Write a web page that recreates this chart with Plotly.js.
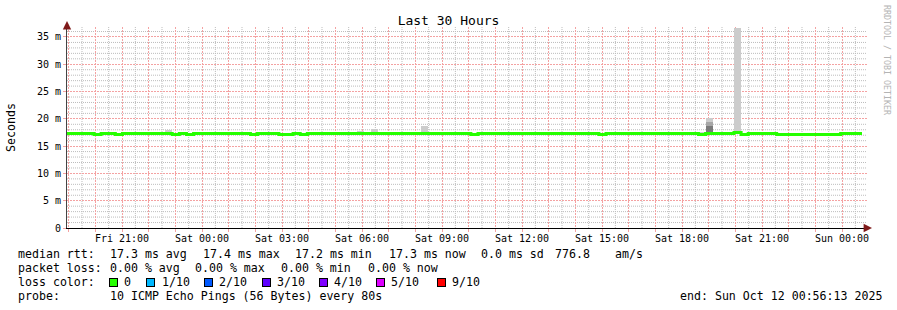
<!DOCTYPE html>
<html>
<head>
<meta charset="utf-8">
<script src="https://cdn.plot.ly/plotly-3.0.1.min.js"></script>
<style>
  html, body { margin: 0; padding: 0; background: #ffffff; }
  #chart { width: 897px; height: 310px; }
</style>
</head>
<body>
<div id="chart"></div>
<script>
// ---------------- DATA ----------------
const chartTitle = 'Last 30 Hours';
const rangeStart = '2025-10-10 18:56:13';
const rangeEnd = '2025-10-12 00:56:13';
const binMinutes = 16;            // consolidation step of the archive
const firstBinOffsetMin = -3.25;  // first bin starts slightly before the range start

// median RTT per 16-minute bin (ms)
const medianRtt = [
  17.3, 17.3, 17.3, 17.3, 17.15, 17.3, 17.3, 17.15, 17.3, 17.3,
  17.3, 17.3, 17.3, 17.3, 17.3, 17.15, 17.3, 17.15, 17.3, 17.3,
  17.3, 17.3, 17.3, 17.3, 17.3, 17.3, 17.15, 17.3, 17.3, 17.3,
  17.15, 17.15, 17.3, 17.15, 17.3, 17.3, 17.3, 17.3, 17.3, 17.3,
  17.3, 17.3, 17.3, 17.3, 17.3, 17.3, 17.3, 17.3, 17.3, 17.3,
  17.3, 17.3, 17.3, 17.3, 17.3, 17.3, 17.3, 17.15, 17.3, 17.3,
  17.3, 17.3, 17.3, 17.3, 17.3, 17.3, 17.3, 17.3, 17.3, 17.3,
  17.3, 17.3, 17.3, 17.3, 17.3, 17.15, 17.3, 17.3, 17.3, 17.3,
  17.3, 17.3, 17.3, 17.3, 17.3, 17.3, 17.3, 17.3, 17.3, 17.15,
  17.3, 17.3, 17.3, 17.3, 17.5, 17.15, 17.3, 17.3, 17.3, 17.3,
  17.15, 17.15, 17.15, 17.15, 17.15, 17.15, 17.15, 17.15, 17.15, 17.3,
  17.3, 17.3
];

// bins with visible smoke (ping spread above the median)
const smokeBins = [14, 41, 43, 50, 51, 73, 85, 89, 90, 94, 109];
const smokeMax  = [17.9, 17.7, 18.1, 18.6, 17.6, 17.6, 17.6, 17.6, 20.2, 36.65, 17.6];
const smokeP90  = [null, null, null, null, null, null, null, null, 19.4, null, null];
const smokeP80  = [null, null, null, null, null, null, null, null, 18.7, null, null];

const yTickValues = [0, 5, 10, 15, 20, 25, 30, 35];
const yTickLabels = ['0', '5 m', '10 m', '15 m', '20 m', '25 m', '30 m', '35 m'];
const xTickTimes = ['2025-10-10 21:00:00', '2025-10-11 00:00:00', '2025-10-11 03:00:00',
  '2025-10-11 06:00:00', '2025-10-11 09:00:00', '2025-10-11 12:00:00', '2025-10-11 15:00:00',
  '2025-10-11 18:00:00', '2025-10-11 21:00:00', '2025-10-12 00:00:00'];
const xTickLabels = ['Fri 21:00', 'Sat 00:00', 'Sat 03:00', 'Sat 06:00', 'Sat 09:00',
  'Sat 12:00', 'Sat 15:00', 'Sat 18:00', 'Sat 21:00', 'Sun 00:00'];

const rttLabel = 'median rtt:';
const rttStats = ['17.3 ms avg', '17.4 ms max', '17.2 ms min', '17.3 ms now', '0.0 ms sd', '776.8', 'am/s'];
const lossLabel = 'packet loss:';
const lossStats = ['0.00 % avg', '0.00 % max', '0.00 % min', '0.00 % now'];
const lossColorLabel = 'loss color:';
const lossColorNames = ['0', '1/10', '2/10', '3/10', '4/10', '5/10', '9/10'];
const lossColors = ['#26ff00', '#00b8ff', '#0059ff', '#5e00ff', '#7e00ff', '#dd00ff', '#ff0000'];
const probeLabel = 'probe:';
const probeText = '10 ICMP Echo Pings (56 Bytes) every 80s';
const endText = 'end: Sun Oct 12 00:56:13 2025';
const watermark = 'RRDTOOL / TOBI OETIKER';

// ---------------- BUILD ----------------
function toMs(s) { return Date.parse(s.replace(' ', 'T') + 'Z'); }
function fmt(ms) { return new Date(ms).toISOString().replace('T', ' ').slice(0, 19); }
const t0 = toMs(rangeStart);
const binMs = binMinutes * 60000;
const binStart = i => t0 + firstBinOffsetMin * 60000 + i * binMs;

const lineX = [], lineY = [];
medianRtt.forEach((v, i) => { lineX.push(fmt(binStart(i))); lineY.push(v); });
lineX.push(fmt(binStart(medianRtt.length)));
lineY.push(medianRtt[medianRtt.length - 1]);

function smokeTrace(tops, color) {
  const x = [], y = [], base = [];
  smokeBins.forEach((b, k) => {
    if (tops[k] == null) return;
    x.push(fmt(binStart(b) + binMs / 2));
    base.push(medianRtt[b]);
    y.push(tops[k] - medianRtt[b]);
  });
  return { type: 'bar', x, y, base, width: binMs, marker: { color, line: { width: 0 } },
           hoverinfo: 'skip', showlegend: false };
}

// hourly major grid (axis), labelled every 3 h
const hourTicks = [], hourText = [], halfTicks = [];
const firstHour = toMs('2025-10-10 19:00:00');
const lastMs = toMs(rangeEnd);
for (let t = firstHour; t <= lastMs; t += 3600000) {
  const s = fmt(t);
  hourTicks.push(s);
  const k = xTickTimes.indexOf(s);
  hourText.push(k >= 0 ? xTickLabels[k] : '');
}
for (let t = firstHour - 1800000; t <= lastMs; t += 3600000) if (t >= t0) halfTicks.push(fmt(t));
const yMinor = [];
for (let v = 1; v <= 36; v++) if (v % 5 !== 0) yMinor.push(v);

const traces = [
  smokeTrace(smokeMax, '#cccccc'),
  smokeTrace(smokeP90, '#a6a6a6'),
  smokeTrace(smokeP80, '#7a7a7a'),
  { type: 'scatter', mode: 'lines', x: lineX, y: lineY,
    line: { shape: 'hv', color: '#26ff00', width: 3 }, hoverinfo: 'skip', showlegend: false }
];

// minor grid (grey dotted) as background shapes
const minorGrid = '#bdbdbd';
const shapes = [];
halfTicks.forEach(s => shapes.push({ type: 'line', layer: 'below', xref: 'x', yref: 'paper',
  x0: s, x1: s, y0: 0, y1: 1, line: { color: minorGrid, width: 1, dash: '1px,1px' } }));
yMinor.forEach(v => shapes.push({ type: 'line', layer: 'below', xref: 'paper', yref: 'y',
  x0: 0, x1: 1, y0: v, y1: v, line: { color: minorGrid, width: 1, dash: '1px,1px' } }));

const L = 67, T = 27, W = 800, H = 201;
const xp = px => (px - L) / W;
const yp = py => (T + H - py) / H;
const mono = 'DejaVu Sans Mono, monospace';
const annFont = { family: mono, size: 11.6, color: '#000000' };

const ann = [];
function txt(text, px, py, font) {
  ann.push({ xref: 'paper', yref: 'paper', x: xp(px), y: yp(py), xanchor: 'left', yanchor: 'middle',
             text, showarrow: false, font: font || annFont });
}
txt(rttLabel, 16, 254);
[107.5, 200.5, 293, 386.5, 479, 553, 613].forEach((px, i) => txt(rttStats[i], px, 254));
txt(lossLabel, 16, 268);
[107.5, 193, 279, 365.5].forEach((px, i) => txt(lossStats[i], px, 268));
txt(lossColorLabel, 16, 282);
const swatchX = [108.5, 146, 203.5, 261.5, 318.5, 375.5, 436.5];
const swatchLabelX = [122, 159.5, 217, 275, 332, 389, 450];
lossColors.forEach((c, i) => {
  ann.push({ xref: 'paper', yref: 'paper', x: xp(swatchX[i]), y: yp(282), xanchor: 'left', yanchor: 'middle',
             text: ' ', showarrow: false, font: { size: 4 }, width: 7, height: 7,
             bgcolor: c, bordercolor: '#000000', borderwidth: 1, borderpad: 0 });
  txt(lossColorNames[i], swatchLabelX[i], 282);
});
txt(probeLabel, 16, 296);
txt(probeText, 107.5, 296);
txt(endText, 678, 296);

ann.push({ xref: 'paper', yref: 'paper', x: xp(11), y: yp(127), xanchor: 'center', yanchor: 'middle',
           text: 'Seconds', textangle: -90, showarrow: false, font: { family: mono, size: 11.6, color: '#000' } });
ann.push({ xref: 'paper', yref: 'paper', x: xp(887), y: yp(60), xanchor: 'center', yanchor: 'middle',
           text: watermark, textangle: 90, showarrow: false, font: { family: mono, size: 8.3, color: '#b4b4b4' } });
ann.push({ xref: 'paper', yref: 'paper', x: xp(67), y: yp(21), ax: 0, ay: 9, text: '', showarrow: true,
           arrowhead: 2, arrowsize: 1.4, arrowwidth: 1.2, arrowcolor: '#7f1a1a' });
ann.push({ xref: 'paper', yref: 'paper', x: xp(872), y: yp(228), ax: -9, ay: 0, text: '', showarrow: true,
           arrowhead: 2, arrowsize: 1.4, arrowwidth: 1.2, arrowcolor: '#7f1a1a' });

const majorGrid = '#f4a2a2';
const layout = {
  width: 897, height: 310,
  margin: { l: L, r: 897 - L - W, t: T, b: 310 - T - H, pad: 0 },
  paper_bgcolor: '#ffffff', plot_bgcolor: '#ffffff',
  showlegend: false, barmode: 'overlay', bargap: 0,
  title: { text: chartTitle, x: 0.5, xref: 'container', xanchor: 'center',
           y: 1 - 20 / 310, yref: 'container', yanchor: 'middle',
           font: { family: mono, size: 13, color: '#000' } },
  xaxis: {
    type: 'date', range: [rangeStart, rangeEnd], layer: 'below traces',
    tickmode: 'array', tickvals: hourTicks, ticktext: hourText,
    ticks: 'outside', ticklen: 3, tickcolor: majorGrid, tickwidth: 1, ticklabelstandoff: -2,
    tickfont: { family: mono, size: 10, color: '#000' },
    showgrid: true, gridcolor: majorGrid, griddash: '2px,1px', gridwidth: 1,
    showline: true, linecolor: '#000000', linewidth: 1,
    zeroline: false, fixedrange: true
  },
  yaxis: {
    range: [0, 36.83], layer: 'below traces',
    tickmode: 'array', tickvals: yTickValues, ticktext: yTickLabels,
    ticks: 'outside', ticklen: 3, tickcolor: majorGrid, tickwidth: 1,
    tickfont: { family: mono, size: 10, color: '#000' },
    showgrid: true, gridcolor: majorGrid, griddash: '2px,1px', gridwidth: 1,
    showline: true, linecolor: '#444444', linewidth: 1,
    zeroline: false, fixedrange: true
  },
  shapes: shapes,
  annotations: ann
};

Plotly.newPlot('chart', traces, layout, { displayModeBar: false, staticPlot: true });
</script>
</body>
</html>
